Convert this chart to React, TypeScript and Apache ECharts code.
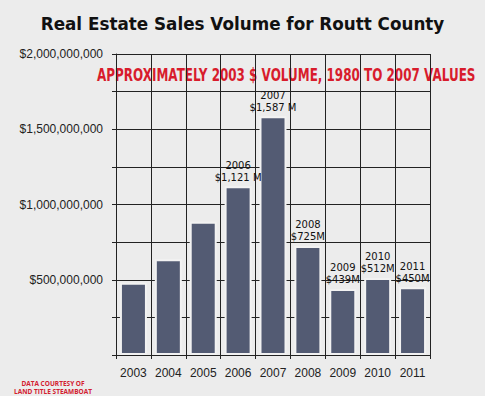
import React, { useEffect, useRef } from "react";
import * as echarts from "echarts";

const years = ["2003", "2004", "2005", "2006", "2007", "2008", "2009", "2010", "2011"];
const volumesMillions = [480, 636, 886, 1121, 1587, 725, 439, 512, 450];
const barValueLabels = ["", "", "", "$1,121 M", "$1,587 M", "$725M", "$439M", "$512M", "$450M"];
const yTickStep = 250000000;
const yMax = 2000000000;
const subtitleText = "APPROXIMATELY 2003 $ VOLUME, 1980 TO 2007 VALUES";

const fmtMoney = (v: number) => "$" + Math.round(v).toString().replace(/\B(?=(\d{3})+(?!\d))/g, ",");

export default function App() {
  const ref = useRef<HTMLDivElement>(null);
  useEffect(() => {
    document.body.style.margin = "0";
    const subFont = "bold 17px 'DejaVu Sans'";
    const ctx = document.createElement("canvas").getContext("2d")!;
    ctx.font = subFont;
    const subW = ctx.measureText(subtitleText).width || 500;
    const subScale = 379 / subW;
    const chart = echarts.init(ref.current!, null, { renderer: "svg" });
    chart.setOption({
      animation: false,
      backgroundColor: "#ececec",
      title: [
        {
          text: "Real Estate Sales Volume for Routt County",
          left: "center",
          top: 10,
          textStyle: { fontFamily: "DejaVu Sans", fontWeight: "bold", fontSize: 16.8, color: "#111" },
        },
      ],
      graphic: [
        {
          type: "text",
          x: 97,
          y: 75,
          scaleX: subScale,
          style: {
            text: subtitleText,
            fontFamily: "DejaVu Sans",
            fontWeight: "bold",
            fontSize: 17,
            fill: "#d81c2c",
            align: "left",
            verticalAlign: "middle",
          },
        },
        {
          type: "text",
          x: 53,
          y: 387,
          style: {
            text: "DATA COURTESY OF\nLAND TITLE STEAMBOAT",
            fontFamily: "Open Sans",
            fontWeight: "bold",
            fontSize: 6.5,
            lineHeight: 8,
            align: "center",
            verticalAlign: "middle",
            fill: "#d32030",
          },
        },
      ],
      grid: { left: 116, right: 55, top: 54, bottom: 41, containLabel: false },
      xAxis: {
        type: "category",
        data: years,
        boundaryGap: true,
        axisLine: { show: true, lineStyle: { color: "#222", width: 1 } },
        axisTick: { show: true, length: 4, lineStyle: { color: "#222" } },
        splitLine: { show: true, lineStyle: { color: "#222", width: 1 } },
        axisLabel: { fontFamily: "Liberation Sans", fontSize: 12, color: "#222", margin: 12 },
      },
      yAxis: {
        type: "value",
        min: 0,
        max: yMax,
        interval: yTickStep,
        axisLine: { show: true, lineStyle: { color: "#222", width: 1 } },
        axisTick: { show: true, length: 4, lineStyle: { color: "#222" } },
        splitLine: { show: true, lineStyle: { color: "#222", width: 1 } },
        axisLabel: {
          fontFamily: "Liberation Sans",
          fontSize: 12,
          color: "#222",
          margin: 13,
          formatter: (v: number) => (v > 0 && v % 500000000 === 0 ? fmtMoney(v) : ""),
        },
      },
      series: [
        {
          type: "bar",
          data: volumesMillions.map((v) => v * 1000000),
          barWidth: 27,
          itemStyle: { color: "#535b73", borderColor: "#f2f2f2", borderWidth: 2 },
          label: {
            show: true,
            position: "top",
            distance: 3,
            fontFamily: "DejaVu Sans",
            fontSize: 10,
            lineHeight: 12,
            color: "#111",
            formatter: (p: any) =>
              barValueLabels[p.dataIndex] ? years[p.dataIndex] + "\n" + barValueLabels[p.dataIndex] : "",
          },
        },
      ],
    });
    return () => chart.dispose();
  }, []);
  return <div ref={ref} style={{ width: 485, height: 396 }} />;
}
